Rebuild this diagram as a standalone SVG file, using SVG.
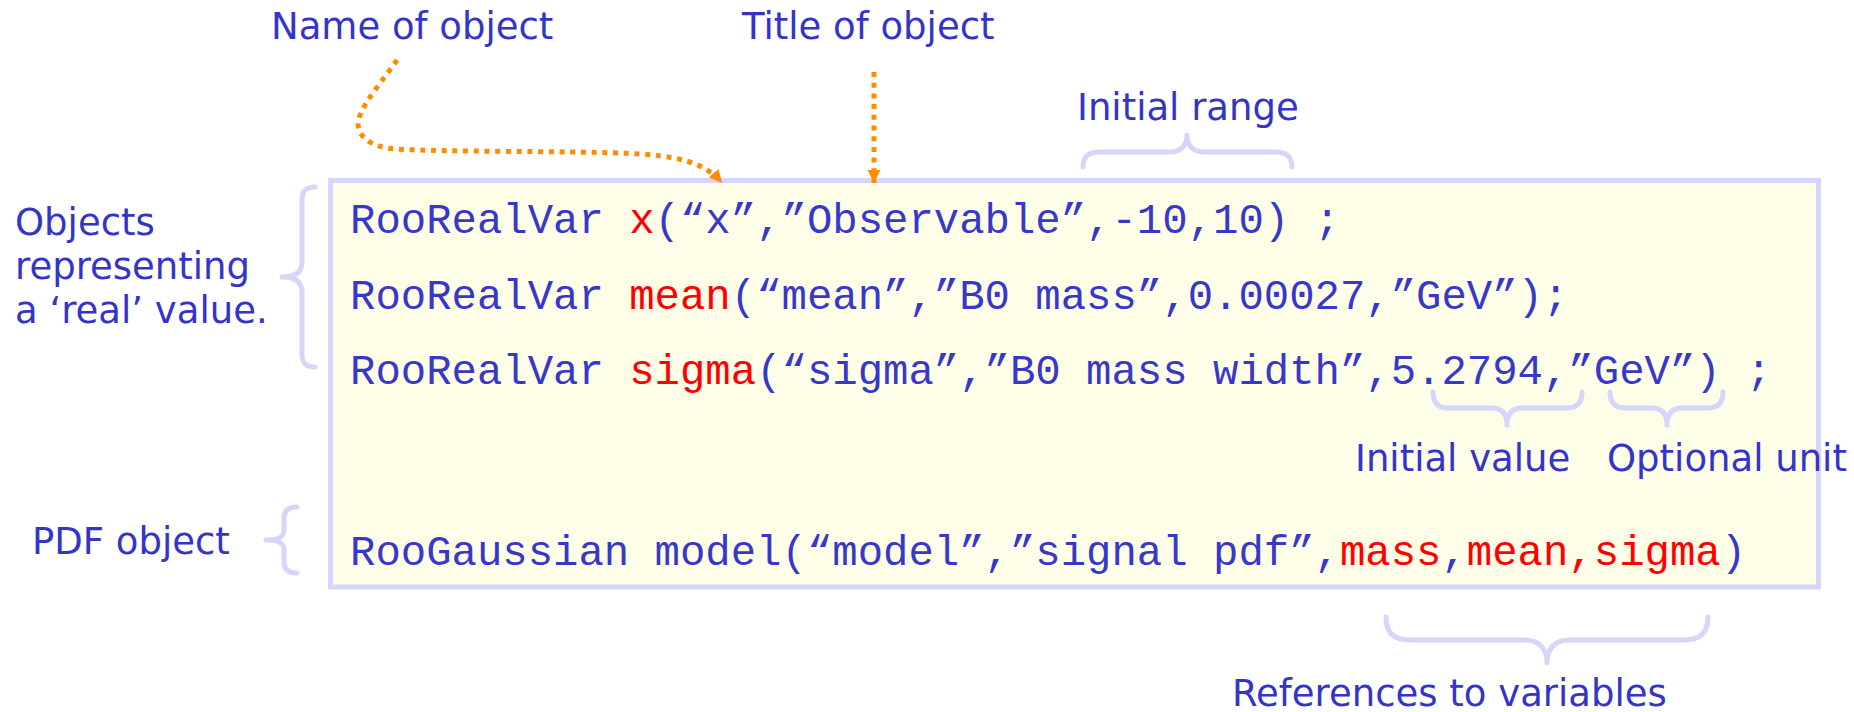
<svg xmlns="http://www.w3.org/2000/svg" width="1854" height="712" viewBox="0 0 1854 712">
  <style>
    .label { font-family: "DejaVu Sans", Verdana, sans-serif; font-size: 37px; fill: #3434c9; }
    .code { font-family: "Liberation Mono", "Courier New", monospace; font-size: 42.3px; fill: #3838c8; }
    .red { fill: #ff0000; }
    .brace { fill: none; stroke: #d6d6fb; stroke-width: 5; stroke-linecap: round; stroke-linejoin: round; }
    .arrow { fill: none; stroke: #ff8c00; stroke-width: 5; stroke-dasharray: 5 5.7; }
  </style>
  <defs>
    <marker id="ah" viewBox="0 0 12 12" refX="12" refY="6" markerWidth="13" markerHeight="13" markerUnits="userSpaceOnUse" orient="auto">
      <path d="M0,0 L12,6 L0,12 z" fill="#ff8c00"/>
    </marker>
  </defs>
  <rect width="1854" height="712" fill="#ffffff"/>

  <g id="code-box">
    <rect x="330.5" y="180.5" width="1488" height="406.5" fill="#fefde8" stroke="#d6d6fb" stroke-width="5"/>
    <text class="code" x="350" y="233">RooRealVar <tspan class="red">x</tspan>(“x”,”Observable”,-10,10) ;</text>
    <text class="code" x="350" y="309">RooRealVar <tspan class="red">mean</tspan>(“mean”,”B0 mass”,0.00027,”GeV”);</text>
    <text class="code" x="350" y="384">RooRealVar <tspan class="red">sigma</tspan>(“sigma”,”B0 mass width”,5.2794,”GeV”) ;</text>
    <text class="code" x="350" y="565">RooGaussian model(“model”,”signal pdf”,<tspan class="red">mass</tspan>,<tspan class="red">mean,sigma</tspan>)</text>
  </g>

  <g id="name-of-object">
    <text class="label" x="271" y="39">Name of object</text>
  </g>
  <g id="title-of-object">
    <text class="label" x="742" y="39">Title of object</text>
  </g>
  <g id="initial-range">
    <text class="label" x="1077" y="120">Initial range</text>
    <path class="brace" d="M1083,167 C1083,157 1088,152 1100,152 L1170,152 C1180,152 1187,146 1187,135 C1187,146 1194,152 1204,152 L1275,152 C1287,152 1292,157 1292,167"/>
  </g>
  <g id="real-objects">
    <text class="label" x="15" y="235">Objects</text>
    <text class="label" x="15" y="279">representing</text>
    <text class="label" x="15" y="323">a ‘real’ value.</text>
    <path class="brace" d="M315,187 C305,187 302,192 302,200 L302,262 C302,272 295,277 282,277 C295,277 302,282 302,292 L302,354 C302,362 305,367 315,367"/>
  </g>
  <g id="pdf-object">
    <text class="label" x="32" y="554">PDF object</text>
    <path class="brace" d="M297,507 C288,507 284,511 284,518 L284,530 C284,537 279,540 266,540 C279,540 284,543 284,550 L284,562 C284,569 288,573 297,573"/>
  </g>
  <g id="initial-value">
    <text class="label" x="1355" y="471">Initial value</text>
    <path class="brace" d="M1433,392 C1433,403 1438,408 1448,408 L1492,408 C1502,408 1507,414 1507,425 C1507,414 1512,408 1522,408 L1567,408 C1577,408 1582,403 1582,392"/>
  </g>
  <g id="optional-unit">
    <text class="label" x="1607" y="471">Optional unit</text>
    <path class="brace" d="M1610,392 C1610,403 1615,408 1625,408 L1652,408 C1662,408 1667,414 1667,425 C1667,414 1672,408 1682,408 L1708,408 C1718,408 1723,403 1723,392"/>
  </g>
  <g id="references-to-variables">
    <text class="label" x="1232" y="706">References to variables</text>
    <path class="brace" d="M1386,617 C1386,632 1393,640 1410,640 L1525,640 C1540,640 1547,650 1547,663 C1547,650 1554,640 1569,640 L1684,640 C1701,640 1708,632 1708,617"/>
  </g>

  <g id="connectors">
    <path class="arrow" marker-end="url(#ah)" d="M397,60 C385,78 365,100 359,118 C354,135 370,147 395,149 C450,152 560,151 620,153 C680,155 705,163 722,183"/>
    <path class="arrow" marker-end="url(#ah)" d="M874,72 L874,183"/>
  </g>
</svg>
